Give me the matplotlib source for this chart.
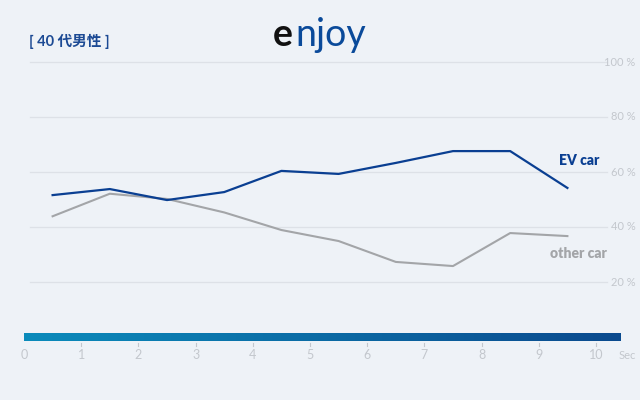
import numpy as np
import matplotlib.pyplot as plt
from matplotlib.colors import LinearSegmentedColormap

plt.rcParams['font.family'] = ['Lato', 'Noto Sans CJK JP', 'DejaVu Sans']

# data
secs = [0.5, 1.5, 2.5, 3.5, 4.5, 5.5, 6.5, 7.5, 8.5, 9.5]
ev_car = [51.6, 53.8, 49.8, 52.7, 60.4, 59.3, 63.3, 67.6, 67.6, 54.2]
other_car = [43.9, 52.1, 50.2, 45.3, 38.9, 34.9, 27.3, 25.8, 37.8, 36.7]
y_ticks = [20, 40, 60, 80, 100]
x_ticks = list(range(11))

BG = '#eef2f7'
EV_COL = '#0a3f92'
OT_COL = '#a3a5a8'
TICK_COL = '#c3c7cd'

fig = plt.figure(figsize=(6.4, 4.0), dpi=100, facecolor=BG)
ax = fig.add_axes([0, 0, 1, 1])
ax.set_facecolor(BG)
# pixel mapping: x=0 -> 24px, 57.2px/sec ; y=0 -> 337px from top, 2.75px/%
ax.set_xlim(-24 / 57.2, (640 - 24) / 57.2)
ax.set_ylim((337 - 400) / 2.75, 337 / 2.75)
ax.axis('off')

# grid + labels
for v in y_ticks:
    ax.plot([0.105, 10.19], [v, v], color='#dde1e7', lw=0.9, zorder=1)
    ax.text(10.69, v, f'{v} %', color=TICK_COL, fontsize=8,
            va='center', ha='right')

# lines
ax.plot(secs, other_car, color=OT_COL, lw=1.5, zorder=3)
ax.plot(secs, ev_car, color=EV_COL, lw=1.6, zorder=4)
ax.text(9.7, 64.3, 'EV car', color=EV_COL, fontsize=10, fontweight='heavy',
        ha='center', va='center')
ax.text(9.7, 30.5, 'other car', color=OT_COL, fontsize=10, fontweight='heavy',
        ha='center', va='center')

# gradient time bar
cmap = LinearSegmentedColormap.from_list('bar', ['#0b8bbb', '#0a4a8e'])
grad = np.linspace(0, 1, 256).reshape(1, -1)
ax.imshow(grad, cmap=cmap, aspect='auto', extent=[0, 10.42, -1.45, 1.45], zorder=2)
for t in x_ticks:
    if t > 0:
        ax.plot([t, t], [-2.3, -3.3], color=TICK_COL, lw=0.8)
    ax.text(t, -6.6, str(t), color=TICK_COL, fontsize=9, ha='center', va='center')
ax.text(10.4, -6.6, 'Sec', color=TICK_COL, fontsize=8, ha='left', va='center')

# header
ax.text(0.08, 107.5, '[ 40 代男性 ]', color='#1c4a94', fontsize=10.5, fontweight='bold',
        ha='left', va='center')
ax.text(4.53, 109.8, 'e', color='#111111', fontsize=27, fontweight='bold',
        ha='center', va='center')
ax.text(4.75, 109.8, 'njoy', color='#0a4a9a', fontsize=27, ha='left', va='center')

fig.savefig('out.png', dpi=100, facecolor=BG)
